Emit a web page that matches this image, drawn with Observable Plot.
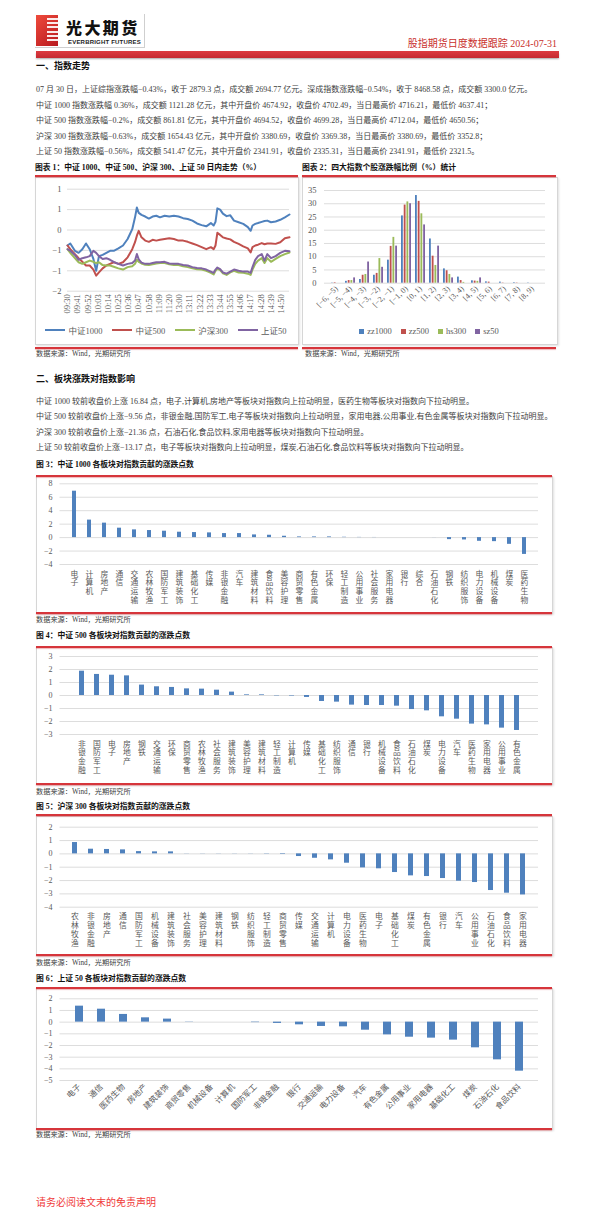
<!DOCTYPE html>
<html><head><meta charset="utf-8">
<script src="https://cdn.jsdelivr.net/npm/d3@7"></script>
<script src="https://cdn.jsdelivr.net/npm/@observablehq/plot@0.6"></script>
<style>
body{margin:0;background:#fff;}
#page{position:relative;width:595px;height:1219px;overflow:hidden;font-family:"Liberation Serif","Noto Sans CJK SC",serif;color:#333;}
.abs{position:absolute;white-space:nowrap;line-height:1;}
.p{font-size:8px;color:#404040;}
.h{font-size:9px;font-weight:bold;color:#111;}
.t{font-size:7.8px;font-weight:bold;color:#111;}
.src{font-size:7.2px;color:#404040;}
.red{position:absolute;height:2px;background:#d6353b;box-shadow:0 1px 1px rgba(214,53,59,.35);}
.box{position:absolute;border:1px solid #d6d6d6;box-shadow:1px 1px 2px rgba(0,0,0,.12);background:#fff;}
.leg{position:absolute;display:flex;align-items:center;justify-content:center;font-size:8.5px;color:#595959;}
.leg span{display:inline-flex;align-items:center;}
</style></head>
<body><div id="page"></div>
<script>
// ---------- data ----------
const lineSeries = ["中证1000", "中证500", "沪深300", "上证50"];
const timeIdx = [0,3,8,12,16,20,24,28,31,34,38,42,46,50,55,60,65,70,73,75,77,80,84,88,92,96,100,105,110,115,120,125,130,135,140,145,150,155,158,160,162,165,168,172,176,180,185,190,195,198,200,203,206,210,213,216,220,225,230,235,240];
const zz1000Line = [-0.38,-0.33,-0.51,-0.56,-0.47,-0.33,-0.47,-0.71,-1.0,-0.64,-0.61,-0.56,-0.51,-0.51,-0.45,-0.38,-0.22,0.02,0.31,0.55,0.42,0.37,0.33,0.28,0.33,0.35,0.31,0.35,0.33,0.35,0.33,0.29,0.27,0.23,0.16,0.12,0.09,0.17,0.11,0.2,0.53,0.5,0.4,0.34,0.36,0.23,0.19,0.15,0.07,-0.02,0.11,0.15,0.17,0.2,0.22,0.23,0.19,0.21,0.25,0.31,0.38];
const zz500Line = [-0.38,-0.47,-0.59,-0.69,-0.78,-0.87,-0.87,-0.97,-1.12,-1.04,-0.94,-0.87,-0.83,-0.79,-0.83,-0.79,-0.67,-0.47,-0.3,-0.14,-0.02,-0.18,-0.26,-0.29,-0.24,-0.26,-0.24,-0.22,-0.2,-0.22,-0.26,-0.26,-0.29,-0.33,-0.37,-0.42,-0.47,-0.42,-0.47,-0.38,-0.07,-0.12,-0.18,-0.21,-0.23,-0.29,-0.34,-0.4,-0.45,-0.55,-0.42,-0.38,-0.36,-0.32,-0.35,-0.33,-0.33,-0.34,-0.3,-0.2,-0.18];
const hs300Line = [-0.47,-0.56,-0.69,-0.79,-0.83,-0.79,-0.75,-0.78,-0.81,-0.79,-0.86,-0.87,-0.87,-0.9,-0.94,-0.97,-0.91,-0.89,-0.83,-0.73,-0.78,-0.82,-0.85,-0.86,-0.84,-0.82,-0.81,-0.81,-0.84,-0.86,-0.86,-0.89,-0.91,-0.94,-0.96,-0.97,-1.0,-1.05,-1.09,-1.0,-0.95,-0.98,-1.06,-1.1,-1.04,-1.0,-1.04,-1.05,-1.07,-1.1,-0.97,-0.83,-0.75,-0.69,-0.81,-0.69,-0.78,-0.71,-0.64,-0.59,-0.55];
const sz50Line = [-0.47,-0.51,-0.61,-0.73,-0.69,-0.67,-0.64,-0.51,-0.56,-0.64,-0.71,-0.69,-0.73,-0.78,-0.83,-0.87,-0.83,-0.81,-0.75,-0.59,-0.72,-0.8,-0.83,-0.83,-0.81,-0.79,-0.79,-0.78,-0.82,-0.83,-0.83,-0.86,-0.87,-0.91,-0.93,-0.94,-0.97,-1.02,-1.05,-0.97,-0.92,-0.96,-1.04,-1.07,-1.02,-0.97,-1.0,-1.02,-1.02,-1.05,-0.91,-0.73,-0.64,-0.59,-0.75,-0.59,-0.69,-0.64,-0.56,-0.51,-0.52];
const timeTickIdx = [0,11,22,33,44,55,66,77,88,99,110,121,132,143,154,165,176,187,198,209,220,231];
const timeTickLabels = ["09:30","09:41","09:52","10:03","10:14","10:25","10:36","10:47","10:58","11:09","11:20","13:00","13:11","13:22","13:33","13:44","13:55","14:06","14:17","14:28","14:39","14:50"];
const lineYTicks = [-1.5,-1,-0.5,0,0.5,1];

const distSeries = ["zz1000", "zz500", "hs300", "sz50"];
const bins = ["[−6, −5)","[−5, −4)","[−4, −3)","[−3, −2)","[−2, −1)","[−1, 0)","[0, 1)","[1, 2)","[2, 3)","[3, 4)","[4, 5)","[5, 6)","[6, 7)","[7, 8)","[8, 9)"];
const zz1000Dist = [0.1,0.7,1.4,3.0,8.7,25.4,33.1,16.7,5.4,2.3,0.9,0.5,0.4,0.2,0.1];
const zz500Dist  = [0.2,1.0,3.0,3.7,13.9,29.5,30.9,10.2,4.7,1.0,0.8,0.4,0.1,0.1,0];
const hs300Dist  = [0,1.0,3.3,9.3,17.3,30.7,26.2,6.7,3.3,0.3,0.7,0,0,0,0];
const sz50Dist   = [0,2.0,8.0,6.0,14.0,30.0,22.0,14.0,2.0,0,2.0,0,0,0,0];
const distYTicks = [0,5,10,15,20,25,30,35];

const zz1000Sectors = ["电子","计算机","房地产","通信","交通运输","农林牧渔","国防军工","建筑装饰","基础化工","传媒","非银金融","汽车","建筑材料","食品饮料","美容护理","商贸零售","有色金属","环保","轻工制造","公用事业","社会服务","家用电器","银行","综合","石油石化","钢铁","纺织服饰","电力设备","机械设备","煤炭","医药生物"];
const zz1000Contrib = [6.9,2.6,2.15,1.4,1.15,1.05,0.95,0.8,0.75,0.7,0.6,0.6,0.4,0.35,0.2,0.1,0.1,0.1,0.05,0.03,0.02,0,0,0,-0.01,-0.3,-0.35,-0.55,-0.6,-1.0,-2.5];
const zz500Sectors = ["非银金融","国防军工","电子","房地产","钢铁","交通运输","环保","商贸零售","农林牧渔","社会服务","建筑装饰","美容护理","建筑材料","轻工制造","计算机","传媒","基础化工","纺织服饰","通信","银行","机械设备","食品饮料","石油石化","煤炭","电力设备","汽车","医药生物","家用电器","公用事业","有色金属"];
const zz500Contrib = [1.87,1.62,1.56,1.51,0.8,0.67,0.62,0.51,0.49,0.41,0.26,0.05,0.05,-0.03,-0.04,-0.15,-0.46,-0.51,-0.74,-0.77,-0.77,-0.82,-1.08,-1.18,-1.64,-1.82,-2.2,-2.26,-2.51,-2.69];
const hs300Sectors = ["农林牧渔","非银金融","房地产","通信","国防军工","机械设备","建筑装饰","社会服务","美容护理","建筑材料","钢铁","纺织服饰","轻工制造","商贸零售","传媒","交通运输","计算机","电力设备","医药生物","电子","基础化工","煤炭","有色金属","银行","汽车","公用事业","石油石化","食品饮料","家用电器"];
const hs300Contrib = [0.85,0.35,0.33,0.3,0.17,0.15,0.15,0.01,0.01,-0.01,-0.01,-0.01,-0.02,-0.04,-0.2,-0.33,-0.45,-0.7,-1.05,-1.12,-1.4,-1.65,-1.7,-1.85,-2.05,-2.15,-2.75,-2.95,-3.08];
const sz50Sectors = ["电子","通信","医药生物","房地产","建筑装饰","商贸零售","机械设备","计算机","国防军工","非银金融","银行","交通运输","电力设备","汽车","有色金属","公用事业","家用电器","基础化工","煤炭","石油石化","食品饮料"];
const sz50Contrib = [1.37,1.11,0.66,0.37,0.26,0.02,0,0,-0.04,-0.11,-0.23,-0.37,-0.4,-0.69,-1.09,-1.29,-1.37,-1.54,-2.2,-3.23,-4.2];

// ---------- layout helpers ----------
const page = document.getElementById("page");
const FONT = '"Liberation Serif","Noto Sans CJK SC",serif';
const lineColors = ["#4f81bd", "#c0504d", "#9bbb59", "#8064a2"];
function div(cls, left, top, css = "", html = "") {
  const d = document.createElement("div");
  d.className = cls;
  d.style.cssText = `left:${left}px;top:${top}px;` + css;
  d.innerHTML = html;
  page.appendChild(d);
  return d;
}
function text(cls, left, cy, size, str, css = "") {
  return div("abs " + cls, left, cy - size / 2, `font-size:${size}px;` + css, str);
}
function red(left, top, width) { div("red", left, top, `width:${width}px;`); }
function box(left, top, width, height) { div("box", left, top, `width:${width}px;height:${height}px;`); }
function mount(svg, left, top) {
  const d = div("abs", left, top);
  d.appendChild(svg);
}
const style = {fontFamily: FONT, fontSize: "8px", color: "#595959", background: "transparent", overflow: "visible"};

// ---------- header ----------
div("abs", 36, 15, "width:22px;height:31px;background:linear-gradient(135deg,#ef4b3c,#b8191f);");
div("abs", 47, 18, "width:11px;height:25px;background:repeating-linear-gradient(#fff 0 2px,transparent 2px 4.2px);opacity:.9;");
div("abs", 35, 14, "width:109px;height:33px;border-right:1px solid #cfcfcf;border-bottom:1px solid #cfcfcf;");
text("", 66, 26.5, 16, "光大期货", "font-family:'Noto Sans CJK SC';font-weight:900;color:#111;letter-spacing:2.4px;line-height:16px;height:16px;");
text("", 68, 41.5, 6, "EVERBRIGHT FUTURES", "font-family:'Liberation Sans',Arial,sans-serif;font-weight:bold;color:#222;letter-spacing:0.2px;");
text("", 0, 43.7, 10, "股指期货日度数据跟踪 2024-07-31", "width:557px;text-align:right;color:#c9302c;");
div("abs", 36, 50.5, "width:523px;height:7.5px;background:linear-gradient(#dc3b40,#c52a30);box-shadow:0 1.5px 1.5px rgba(0,0,0,.25);");

// ---------- section 1 ----------
text("h", 36, 66.7, 9, "一、指数走势");
const para1 = [
  "07 月 30 日，上证综指涨跌幅−0.43%，收于 2879.3 点，成交额 2694.77 亿元。深成指数涨跌幅−0.54%，收于 8468.58 点，成交额 3300.0 亿元。",
  "中证 1000 指数涨跌幅 0.36%，成交额 1121.28 亿元，其中开盘价 4674.92，收盘价 4702.49，当日最高价 4716.21，最低价 4637.41；",
  "中证 500 指数涨跌幅−0.2%，成交额 861.81 亿元，其中开盘价 4694.52，收盘价 4699.28，当日最高价 4712.04，最低价 4650.56；",
  "沪深 300 指数涨跌幅−0.63%，成交额 1654.43 亿元，其中开盘价 3380.69，收盘价 3369.38，当日最高价 3380.69，最低价 3352.8；",
  "上证 50 指数涨跌幅−0.56%，成交额 541.47 亿元，其中开盘价 2341.91，收盘价 2335.31，当日最高价 2341.91，最低价 2321.5。"
];
const para1Y = [90, 105.5, 121, 136.5, 152];
para1.forEach((s, i) => text("p", 36, para1Y[i], 8, s));

// chart 1 & 2 frames
text("t", 35, 168.3, 7.8, "图表 1：中证 1000、中证 500、沪深 300、上证 50 日内走势（%）");
text("t", 302, 168.3, 7.8, "图表 2：四大指数个股涨跌幅比例（%）统计");
box(35, 177, 262, 166);
box(302, 177, 254, 166);
red(35, 174.5, 263); red(302, 174.5, 254);
red(35, 346.5, 263); red(302, 346.5, 254);
text("src", 36, 355, 7.2, "数据来源：Wind，光期研究所");
text("src", 305, 355, 7.2, "数据来源：Wind，光期研究所");

// chart 1
const lineValues = [zz1000Line, zz500Line, hs300Line, sz50Line];
const lineRows = [];
lineSeries.forEach((s, k) => timeIdx.forEach((t, i) => lineRows.push({series: s, t, v: lineValues[k][i]})));
const chart1 = Plot.plot({
  width: 262, height: 149, marginLeft: 31, marginRight: 9, marginTop: 10.7, marginBottom: 36.3,
  x: {domain: [0, 240]},
  y: {domain: [-1.5, 1]},
  color: {domain: lineSeries, range: lineColors},
  style,
  marks: [
    Plot.gridY(lineYTicks, {stroke: "#d9d9d9", strokeOpacity: 1, strokeWidth: 0.9}),
    Plot.axisY(lineYTicks, {tickSize: 0, tickPadding: 6, fontSize: 8.5, label: null}),
    Plot.axisX(timeTickIdx, {tickSize: 0, tickPadding: 3, tickRotate: -90, fontSize: 8.5, label: null,
      tickFormat: d => timeTickLabels[timeTickIdx.indexOf(d)]}),
    Plot.line(lineRows, {x: "t", y: "v", z: "series", stroke: "series", strokeWidth: 2})
  ]
});
mount(chart1, 36, 178);
const leg1 = div("leg", 35, 325, "width:262px;height:10px;gap:10px;");
lineSeries.forEach((s, k) => {
  leg1.innerHTML += `<span><i style="display:inline-block;width:20px;height:2.5px;background:${lineColors[k]};margin-right:3px"></i>${s}</span>`;
});

// chart 2
const distValues = [zz1000Dist, zz500Dist, hs300Dist, sz50Dist];
const distRows = [];
distSeries.forEach((s, k) => bins.forEach((b, i) => distRows.push({series: s, bin: b, v: distValues[k][i]})));
const c2w = 254, c2ml = 21, c2mr = 12, c2pad = 0.26;
const c2step = (c2w - c2ml - c2mr) / bins.length;
const c2bar = c2step * (1 - c2pad) / 4;
const chart2 = Plot.plot({
  width: c2w, height: 142, marginLeft: c2ml, marginRight: c2mr, marginTop: 10, marginBottom: 39.3,
  x: {type: "band", domain: bins, paddingInner: c2pad, paddingOuter: c2pad / 2},
  y: {domain: [0, 35]},
  style,
  marks: [
    Plot.gridY(distYTicks, {stroke: "#d9d9d9", strokeOpacity: 1, strokeWidth: 0.9}),
    Plot.axisY(distYTicks, {tickSize: 0, tickPadding: 8, fontSize: 8.5, label: null}),
    Plot.axisX({tickSize: 0, tickPadding: 4, tickRotate: -45, fontSize: 8, label: null}),
    ...distSeries.map((s, k) => Plot.barY(distRows.filter(d => d.series === s),
      {x: "bin", y: "v", fill: lineColors[k], insetLeft: k * c2bar, insetRight: (3 - k) * c2bar}))
  ]
});
mount(chart2, 303, 180);
const leg2 = div("leg", 302, 326, "width:254px;height:10px;gap:9px;");
distSeries.forEach((s, k) => {
  leg2.innerHTML += `<span><i style="display:inline-block;width:5px;height:5px;background:${lineColors[k]};margin-right:3px"></i>${s}</span>`;
});

// ---------- section 2 ----------
text("h", 36, 379, 9, "二、板块涨跌对指数影响");
const para2 = [
  "中证 1000 较前收盘价上涨 16.84 点，电子,计算机,房地产等板块对指数向上拉动明显，医药生物等板块对指数向下拉动明显。",
  "中证 500 较前收盘价上涨−9.56 点，非银金融,国防军工,电子等板块对指数向上拉动明显，家用电器,公用事业,有色金属等板块对指数向下拉动明显。",
  "沪深 300 较前收盘价上涨−21.36 点，石油石化,食品饮料,家用电器等板块对指数向下拉动明显。",
  "上证 50 较前收盘价上涨−13.17 点，电子等板块对指数向上拉动明显，煤炭,石油石化,食品饮料等板块对指数向下拉动明显。"
];
const para2Y = [401.7, 417.3, 432.7, 448.3];
para2.forEach((s, i) => text("p", 36, para2Y[i], 8, s));

function sectorChart(names, values, o) {
  const rows = names.map((n, i) => ({n, v: values[i]}));
  const xAxis = o.rotate
    ? Plot.axisX({tickSize: 0, tickPadding: 5, tickRotate: -45, fontSize: 8, label: null})
    : Plot.axisX({tickSize: 0, tickPadding: 6, fontSize: 7.8, lineHeight: 1.12, label: null, tickFormat: d => [...d].join("\n")});
  return Plot.plot({
    width: 513, height: o.height, marginLeft: 22.5, marginRight: 12, marginTop: o.mt, marginBottom: o.mb,
    x: {type: "band", domain: names, paddingInner: o.pad, paddingOuter: o.pad / 2},
    y: {domain: o.domain},
    style,
    marks: [
      Plot.gridY(o.ticks, {stroke: "#d9d9d9", strokeOpacity: 1, strokeWidth: 0.9}),
      Plot.axisY(o.ticks, {tickSize: 0, tickPadding: 7.5, fontSize: 8, label: null}),
      xAxis,
      Plot.barY(rows, {x: "n", y: "v", fill: "#4f81bd"})
    ]
  });
}
const sectorFrames = [
  {title: "图 3：中证 1000 各板块对指数贡献的涨跌点数", ty: 465, top: 474.5, bottom: 611.5, src: 621,
   names: zz1000Sectors, values: zz1000Contrib, o: {height: 133, mt: 6.3, mb: 46, domain: [-4, 8], ticks: [-4,-2,0,2,4,6,8], pad: 0.71}, svgTop: 477},
  {title: "图 4：中证 500 各板块对指数贡献的涨跌点数", ty: 636, top: 645.5, bottom: 783, src: 792.3,
   names: zz500Sectors, values: zz500Contrib, o: {height: 133, mt: 8, mb: 47, domain: [-3, 3], ticks: [-3,-2,-1,0,1,2,3], pad: 0.69}, svgTop: 648},
  {title: "图 5：沪深 300 各板块对指数贡献的涨跌点数", ty: 807.3, top: 814.3, bottom: 954.3, src: 963.3,
   names: hs300Sectors, values: hs300Contrib, o: {height: 135, mt: 9.7, mb: 45.3, domain: [-4, 2], ticks: [-4,-3,-2,-1,0,1,2], pad: 0.68}, svgTop: 817},
  {title: "图 6：上证 50 各板块对指数贡献的涨跌点数", ty: 979.3, top: 986.7, bottom: 1127.7, src: 1135.7,
   names: sz50Sectors, values: sz50Contrib, o: {height: 136, mt: 9.3, mb: 45, domain: [-5, 2], ticks: [-5,-4,-3,-2,-1,0,1,2], pad: 0.64, rotate: true}, svgTop: 989}
];
sectorFrames.forEach(f => {
  text("t", 36, f.ty, 7.8, f.title);
  box(36, f.top + 1.5, 515, f.bottom - f.top - 1.5);
  red(36, f.top, 516);
  red(36, f.bottom, 516);
  mount(sectorChart(f.names, f.values, f.o), 37, f.svgTop);
  text("src", 36, f.src, 7.2, "数据来源：Wind，光期研究所");
});

// footer
text("", 36, 1203.3, 10, "请务必阅读文末的免责声明", "color:#f03a3a;");
</script>
</body></html>
